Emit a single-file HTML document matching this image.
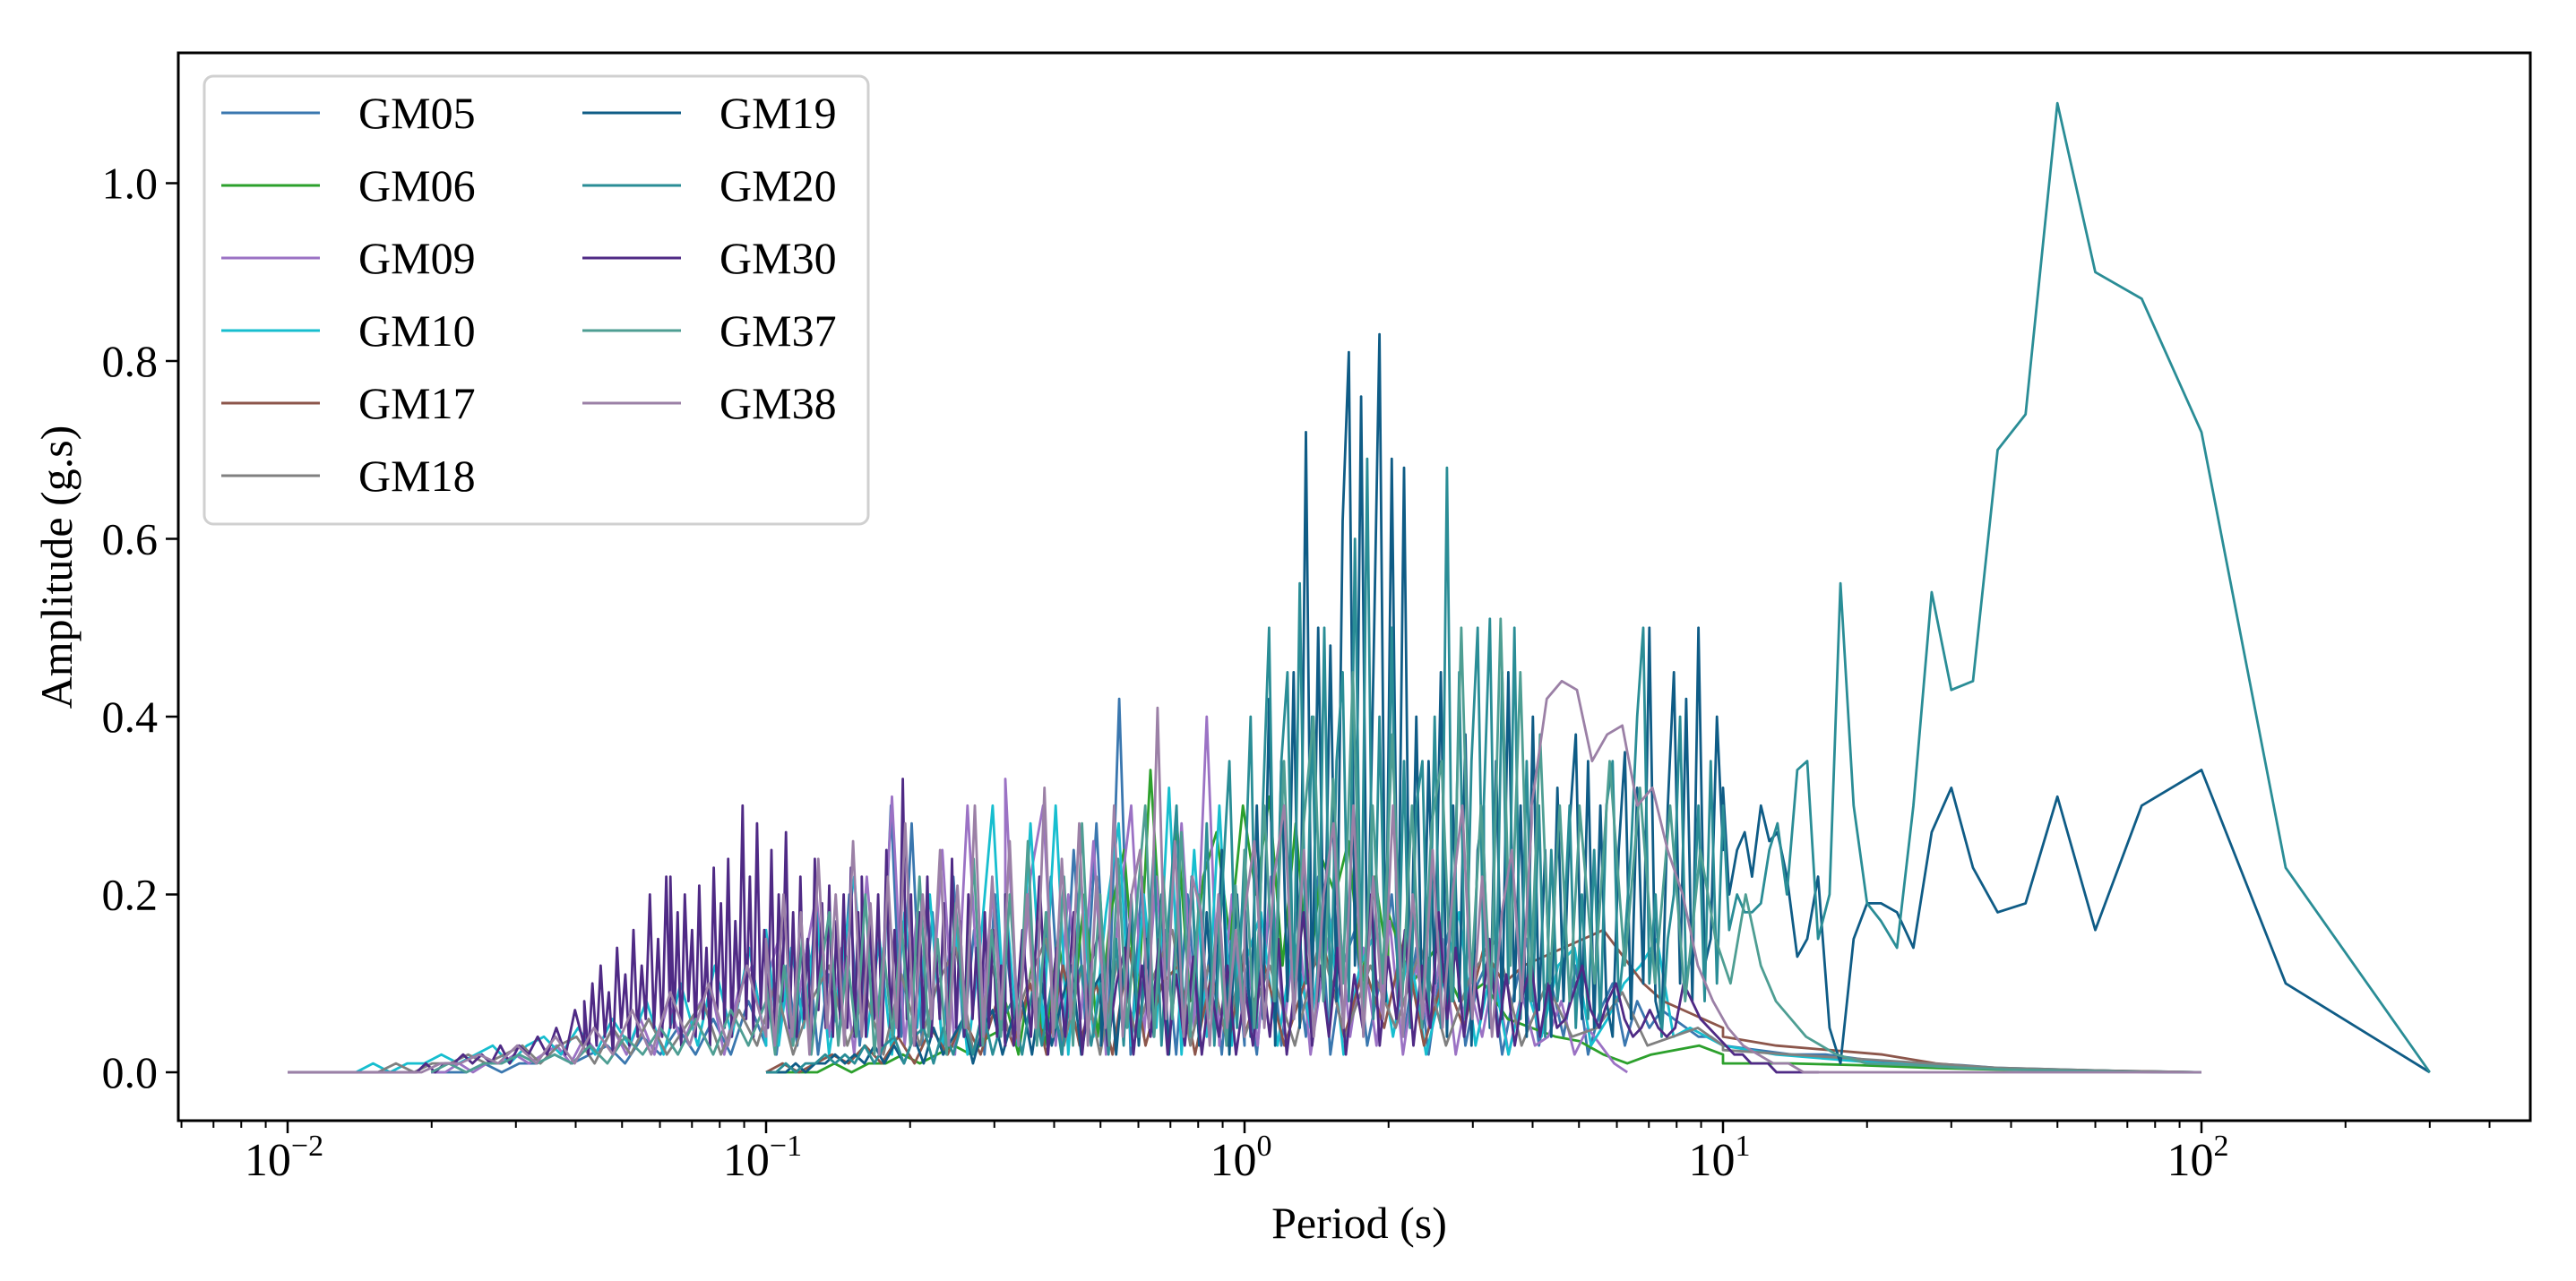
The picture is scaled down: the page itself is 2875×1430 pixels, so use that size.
<!DOCTYPE html>
<html><head><meta charset="utf-8"><style>
html,body{margin:0;padding:0;background:#fff;}
svg{display:block;font-family:"Liberation Serif",serif;}
</style></head><body>
<svg id="chart" width="2875" height="1430" viewBox="0 0 2875 1430" xmlns="http://www.w3.org/2000/svg">
<rect width="2875" height="1430" fill="#fff"/>
<g id="series"></g>
<rect x="199" y="59" width="2625" height="1192" fill="none" stroke="#000" stroke-width="3"/>
<g id="ticks"></g>
<text x="1517" y="1382" font-size="50" text-anchor="middle">Period (s)</text>
<text transform="translate(80,633) rotate(-90)" font-size="50" text-anchor="middle">Amplitude (g.s)</text>
<g id="legend"></g>
</svg>
<script>
const seriesNames = ["GM05","GM06","GM09","GM10","GM17","GM18","GM19","GM20","GM30","GM37","GM38"];
const seriesColors = ["#3a77af","#2ca02c","#9b72c4","#17becf","#8c564b","#808080","#0f5c86","#2a8d96","#4f2a85","#4e9e93","#9b80a6"];
const yTicks = [0.0,0.2,0.4,0.6,0.8,1.0];
const yTickLabels = ["0.0","0.2","0.4","0.6","0.8","1.0"];
const xDecades = [-2,-1,0,1,2];

// segments: [logPeriodStart, logPeriodEnd, amplitudes]
const gm05Segs = [
 [-1.7,-1.0,[0,0,0,0.01,0,0.01,0.01,0.02,0.01,0.02,0.03,0.01,0.04,0.02,0.05,0.02,0.06,0.02,0.08,0.03]],
 [-1.0,-0.5,[0.1,0.02,0.12,0.03,0.15,0.02,0.11,0.04,0.2,0.03,0.14,0.02,0.3,0.04,0.28,0.03,0.18,0.02,0.22,0.04,0.16,0.02,0.2,0.03]],
 [-0.5,0,[0.15,0.03,0.2,0.05,0.22,0.02,0.25,0.06,0.28,0.03,0.42,0.02,0.22,0.05,0.16,0.02,0.2,0.04,0.14,0.02,0.18,0.03]],
 [0,1,[0.12,0.02,0.18,0.03,0.15,0.04,0.22,0.02,0.12,0.16,0.03,0.1,0.2,0.04,0.14,0.02,0.12,0.18,0.03,0.1,0.13,0.02,0.09,0.15,0.03,0.1,0.04,0.12,0.02,0.07,0.1,0.03,0.08,0.05,0.07,0.06,0.05,0.04,0.04,0.03]],
 [1,2,[0.03,0.025,0.02,0.02,0.015,0.01,0.01,0.008,0.005,0.004,0.003,0.002,0.001,0,0]]
];
const gm06Segs = [
 [-1,-0.5,[0,0,0,0,0.01,0,0.01,0.01,0.02,0.01,0.02,0.03,0.02,0.04,0.05]],
 [-0.5,0.3,[0.08,0.02,0.12,0.03,0.15,0.05,0.2,0.04,0.18,0.25,0.06,0.34,0.1,0.28,0.08,0.22,0.27,0.15,0.3,0.2,0.31,0.12,0.28,0.1,0.24,0.2,0.26,0.1,0.22,0.12]],
 [0.3,1,[0.18,0.1,0.14,0.08,0.1,0.06,0.05,0.04,0.035,0.02,0.01,0.02,0.025,0.03,0.02]],
 [1,2,[0.01,0.01,0.008,0.005,0.003,0.002,0.001,0]]
];
const gm09Segs = [
 [-1.7,-1,[0,0,0.01,0,0.01,0.01,0.02,0.01,0.02,0.03,0.01,0.04,0.02,0.05,0.02,0.06,0.02,0.08,0.03,0.07,0.1,0.02,0.09,0.12,0.03]],
 [-1,-0.5,[0.1,0.15,0.03,0.12,0.2,0.04,0.14,0.02,0.22,0.05,0.31,0.03,0.18,0.04,0.25,0.02,0.3,0.05,0.2,0.03]],
 [-0.5,0,[0.33,0.04,0.22,0.3,0.03,0.2,0.06,0.26,0.02,0.18,0.3,0.04,0.22,0.03,0.28,0.05,0.4,0.03,0.2,0.04]],
 [0,0.8,[0.16,0.03,0.22,0.05,0.18,0.02,0.12,0.2,0.04,0.14,0.03,0.17,0.02,0.12,0.05,0.15,0.02,0.1,0.04,0.12,0.02,0.09,0.03,0.04,0.08,0.02,0.05,0.03,0.01,0]]
];
const gm10Segs = [
 [-2,-1,[0,0,0,0,0,0.01,0,0.01,0.01,0.02,0.01,0.02,0.03,0.01,0.03,0.04,0.02,0.05,0.02,0.06,0.03,0.08,0.02,0.1,0.03,0.12,0.04,0.14,0.03]],
 [-1,-0.5,[0.16,0.03,0.14,0.05,0.18,0.02,0.12,0.22,0.04,0.15,0.02,0.18,0.05,0.2,0.03,0.16,0.02,0.14,0.3,0.04]],
 [-0.5,0,[0.2,0.03,0.28,0.05,0.3,0.02,0.22,0.04,0.18,0.28,0.03,0.2,0.05,0.32,0.02,0.25,0.04,0.3,0.03,0.22]],
 [0,1,[0.12,0.18,0.03,0.15,0.05,0.2,0.02,0.12,0.16,0.04,0.14,0.02,0.1,0.18,0.03,0.12,0.02,0.1,0.04,0.12,0.14,0.03,0.06,0.1,0.12,0.15,0.04,0.05,0.04,0.03]],
 [1,2,[0.03,0.02,0.015,0.01,0.008,0.005,0.003,0.002,0.001,0]]
];
const gm17Segs = [
 [-1,0,[0,0.01,0,0.01,0.02,0.01,0.03,0.01,0.04,0.01,0.05,0.02,0.06,0.02,0.08,0.03,0.1,0.02,0.12,0.03,0.1,0.02,0.14,0.03,0.1,0.12,0.02,0.11,0.03,0.13]],
 [0,1,[0.04,0.12,0.03,0.1,0.14,0.04,0.12,0.05,0.15,0.03,0.11,0.05,0.14,0.1,0.12,0.13,0.14,0.15,0.16,0.13,0.1,0.08,0.07,0.06,0.05]],
 [1,2,[0.04,0.03,0.025,0.02,0.01,0.005,0.003,0.002,0.001,0]]
];
const gm18Segs = [
 [-2,0,[0,0,0,0,0,0,0.01,0,0.01,0.01,0.02,0.01,0.02,0.03,0.01,0.03,0.04,0.01,0.05,0.02,0.06,0.02,0.05,0.08,0.02,0.07,0.03,0.1,0.02,0.08,0.12,0.03,0.09,0.02,0.11,0.03,0.1,0.14,0.02,0.12,0.04,0.1,0.15,0.03,0.12,0.02,0.13,0.04,0.11,0.16,0.03,0.12,0.04,0.14]],
 [0,1,[0.04,0.12,0.03,0.15,0.04,0.12,0.05,0.14,0.03,0.11,0.15,0.03,0.1,0.04,0.05,0.09,0.03,0.04,0.05,0.03]],
 [1,2,[0.025,0.02,0.015,0.01,0.005,0.003,0.001,0]]
];
const gm19Segs = [
 [-1,-0.3,[0,0,0,0.01,0,0.01,0.01,0.02,0.01,0.02,0.01,0.03,0.01,0.03,0.01,0.04,0.01,0.05,0.02,0.04,0.06,0.01,0.05,0.07,0.02,0.06,0.08,0.02,0.1,0.03,0.08,0.12,0.02,0.09,0.11]],
 [-0.3,0,[0.03,0.14,0.02,0.12,0.18,0.03,0.15,0.04,0.2,0.02,0.16,0.05,0.22,0.03,0.18,0.04,0.25,0.02,0.2,0.05]],
 [0,0.5,[0.2,0.04,0.3,0.06,0.42,0.03,0.35,0.08,0.45,0.05,0.72,0.06,0.5,0.1,0.48,0.08,0.62,0.81,0.12,0.76,0.1,0.45,0.83,0.08,0.69,0.1,0.68,0.06,0.4,0.05,0.35,0.1,0.45,0.04,0.3,0.08,0.38,0.03,0.25,0.3]],
 [0.5,1,[0.25,0.05,0.35,0.06,0.45,0.08,0.3,0.04,0.4,0.07,0.25,0.04,0.32,0.08,0.28,0.38,0.06,0.35,0.05,0.3,0.08,0.04,0.25,0.36,0.06,0.32,0.1,0.5,0.08,0.05,0.3,0.45,0.1,0.42,0.08,0.5,0.12,0.15,0.4,0.25]]
];
const gm19TailPeriods = [10,10.3,10.7,11.1,11.5,12,12.5,13,13.6,14.3,15,15.8,16.7,17.6,18.75,20,21.4,23.1,25,27.3,30,33.3,37.5,42.9,50,60,75,100,150,300];
const gm19TailAmps = [0.32,0.2,0.25,0.27,0.22,0.3,0.26,0.27,0.22,0.13,0.15,0.22,0.05,0.01,0.15,0.19,0.19,0.18,0.14,0.27,0.32,0.23,0.18,0.19,0.31,0.16,0.3,0.34,0.1,0];
const gm20Segs = [
 [-1,-0.3,[0,0,0.01,0,0.01,0.01,0.02,0.01,0.02,0.01,0.03,0.01,0.03,0.04,0.01,0.04,0.05,0.01,0.05,0.02,0.06,0.02,0.07,0.02,0.06,0.08,0.02,0.09,0.03,0.1,0.02,0.09,0.12,0.03,0.1]],
 [-0.3,0,[0.1,0.02,0.15,0.03,0.2,0.04,0.12,0.25,0.03,0.18,0.3,0.04,0.22,0.05,0.28,0.03,0.2,0.35,0.05,0.25]],
 [0,0.5,[0.2,0.4,0.05,0.3,0.5,0.08,0.35,0.45,0.06,0.55,0.1,0.4,0.08,0.5,0.06,0.35,0.45,0.08,0.6,0.1,0.69,0.06,0.4,0.1,0.5,0.08,0.35,0.05,0.3,0.35,0.06,0.4,0.05,0.68,0.08,0.45,0.06,0.35,0.5,0.1]],
 [0.5,1,[0.3,0.51,0.08,0.45,0.1,0.5,0.06,0.35,0.08,0.3,0.04,0.25,0.08,0.15,0.3,0.05,0.2,0.06,0.25,0.05,0.3,0.35,0.08,0.15,0.25,0.4,0.5,0.1,0.2,0.04,0.15,0.2,0.4,0.1,0.15,0.3,0.08,0.35,0.1,0.3]]
];
const gm20TailPeriods = [10,10.3,10.7,11.1,11.5,12,12.5,13,13.6,14.3,15,15.8,16.7,17.6,18.75,20,21.4,23.1,25,27.3,30,33.3,37.5,42.9,50,60,75,100,150,300];
const gm20TailAmps = [0.3,0.16,0.2,0.18,0.18,0.19,0.25,0.28,0.2,0.34,0.35,0.15,0.2,0.55,0.3,0.19,0.17,0.14,0.3,0.54,0.43,0.44,0.7,0.74,1.09,0.9,0.87,0.72,0.23,0];
const gm30Segs = [
 [-2,-1.75,[0,0,0,0,0,0,0]],
 [-1.75,-1.38,[0,0,0.01,0,0.01,0.01,0.02,0.01,0.02,0.01,0.03,0.01,0.03,0.02,0.04,0.02,0.05,0.02,0.07,0.03]],
 [-1.38,-1.2,[0.08,0.02,0.1,0.03,0.12,0.04,0.09,0.02,0.14,0.05,0.11,0.03,0.16,0.04,0.12,0.06,0.2,0.05,0.15,0.04,0.22,0.05]],
 [-1.2,-0.8,[0.22,0.05,0.18,0.03,0.2,0.08,0.16,0.04,0.21,0.06,0.14,0.03,0.23,0.07,0.19,0.05,0.24,0.04,0.17,0.08,0.3,0.06,0.22,0.04,0.28,0.07,0.16,0.05,0.25,0.03,0.2,0.08,0.27,0.05,0.18,0.04,0.22,0.06,0.15,0.03,0.24,0.07,0.19,0.05,0.21,0.04,0.17,0.06,0.2,0.05,0.23,0.04,0.18,0.06]],
 [-0.8,-0.5,[0.22,0.04,0.18,0.06,0.2,0.03,0.25,0.05,0.16,0.04,0.33,0.06,0.2,0.03,0.18,0.05,0.22,0.04,0.15,0.06,0.19,0.03,0.24,0.05,0.17,0.04,0.2,0.06,0.14,0.03,0.18,0.05,0.16,0.04,0.12,0.03]],
 [-0.5,0,[0.2,0.03,0.16,0.04,0.22,0.02,0.14,0.04,0.18,0.02,0.12,0.16,0.03,0.1,0.14,0.02,0.12,0.04,0.15,0.02,0.11,0.03,0.13,0.02,0.1,0.04,0.12,0.02,0.09]],
 [0,1.2,[0.1,0.03,0.12,0.04,0.15,0.02,0.1,0.18,0.03,0.12,0.04,0.14,0.02,0.11,0.05,0.2,0.03,0.13,0.06,0.16,0.03,0.12,0.05,0.18,0.06,0.14,0.04,0.12,0.06,0.15,0.04,0.11,0.03,0.09,0.12,0.04,0.1,0.05,0.06,0.09,0.12,0.07,0.05,0.08,0.1,0.06,0.04,0.05,0.07,0.05,0.04,0.05,0.1,0.08,0.06,0.05,0.04,0.03,0.02,0.02,0.01,0.01,0.01,0,0,0,0,0,0]]
];
const gm37Segs = [
 [-1.7,-1,[0,0.01,0,0.01,0.01,0.02,0.01,0.02,0.01,0.03,0.01,0.04,0.02,0.05,0.02,0.06,0.02,0.07,0.03,0.08]],
 [-1,0,[0.1,0.02,0.12,0.03,0.15,0.02,0.11,0.18,0.03,0.13,0.04,0.2,0.02,0.14,0.04,0.17,0.03,0.22,0.04,0.15,0.02,0.19,0.05,0.24,0.03,0.16,0.04,0.2,0.05,0.26,0.03,0.18,0.05,0.22,0.03,0.28,0.06,0.2,0.03,0.24,0.05,0.18,0.3,0.04,0.22,0.06,0.27,0.04,0.2,0.06,0.18,0.03,0.21,0.05]],
 [0,0.7,[0.25,0.05,0.3,0.08,0.35,0.06,0.28,0.4,0.08,0.33,0.1,0.45,0.06,0.3,0.1,0.38,0.08,0.3,0.05,0.28,0.35,0.08,0.5,0.1,0.3,0.08,0.51,0.12,0.45,0.08,0.38,0.1,0.3,0.08,0.28]],
 [0.7,1.3,[0.3,0.1,0.35,0.12,0.32,0.1,0.3,0.08,0.25,0.15,0.1,0.2,0.12,0.08,0.06,0.04,0.03,0.02,0.015,0.01]],
 [1.3,2,[0.01,0.008,0.005,0.003,0.002,0.001,0,0]]
];
const gm38Segs = [
 [-2,-1,[0,0,0,0,0,0,0,0,0.01,0.01,0.02,0.01,0.03,0.01,0.04,0.01,0.05,0.02,0.07,0.02,0.09,0.03,0.1,0.03,0.12,0.04]],
 [-1,0,[0.15,0.03,0.2,0.04,0.18,0.02,0.24,0.05,0.2,0.03,0.26,0.04,0.19,0.02,0.22,0.05,0.28,0.03,0.2,0.06,0.25,0.03,0.21,0.05,0.3,0.04,0.22,0.06,0.26,0.03,0.2,0.05,0.32,0.04,0.24,0.06,0.28,0.03,0.22,0.05,0.3,0.04,0.2,0.25,0.05,0.41,0.06,0.26,0.04,0.22,0.18,0.03,0.2,0.05,0.16,0.04]],
 [0,0.6,[0.18,0.26,0.05,0.22,0.3,0.06,0.25,0.04,0.2,0.28,0.05,0.3,0.04,0.22,0.06,0.3,0.04,0.2,0.06,0.25,0.05,0.2,0.3,0.06,0.22,0.04,0.18,0.25,0.08,0.28]],
 [0.6,1.2,[0.3,0.42,0.44,0.43,0.35,0.38,0.39,0.3,0.32,0.25,0.2,0.12,0.08,0.05,0.03,0.02,0.01,0.01,0,0]],
 [1.2,2,[0,0,0,0,0,0]]
];
const allSegs = [gm05Segs,gm06Segs,gm09Segs,gm10Segs,gm17Segs,gm18Segs,gm19Segs,gm20Segs,gm30Segs,gm37Segs,gm38Segs];
const tails = {6:[gm19TailPeriods,gm19TailAmps],7:[gm20TailPeriods,gm20TailAmps]};

const NS = "http://www.w3.org/2000/svg";
const X0 = 321, DEC = 534, Y0 = 1197, YU = 992.5;
function xScale(logT){ return X0 + (logT + 2) * DEC; }
function yScale(a){ return Y0 - a * YU; }

const gSeries = document.getElementById('series');
allSegs.forEach((segs, si) => {
  const pts = [];
  segs.forEach(seg => {
    const lo = seg[0], hi = seg[1], v = seg[2], n = v.length;
    for (let i = 0; i < n; i++) {
      const lt = n > 1 ? lo + (hi - lo) * i / (n - 1) : lo;
      pts.push([xScale(lt), yScale(v[i])]);
    }
  });
  if (tails[si]) {
    const tp = tails[si][0], ta = tails[si][1];
    for (let i = 0; i < tp.length; i++) pts.push([xScale(Math.log10(tp[i])), yScale(ta[i])]);
  }
  const p = document.createElementNS(NS, 'polyline');
  p.setAttribute('points', pts.map(q => q[0].toFixed(1) + ',' + q[1].toFixed(1)).join(' '));
  p.setAttribute('fill', 'none');
  p.setAttribute('stroke', seriesColors[si]);
  p.setAttribute('stroke-width', '2.8');
  p.setAttribute('stroke-linejoin', 'round');
  
  
  gSeries.appendChild(p);
});

const gT = document.getElementById('ticks');
function line(x1,y1,x2,y2,w,name){
  const l = document.createElementNS(NS,'line');
  l.setAttribute('x1',x1);l.setAttribute('y1',y1);l.setAttribute('x2',x2);l.setAttribute('y2',y2);
  l.setAttribute('stroke','#000');l.setAttribute('stroke-width',w);
  
  
  gT.appendChild(l);
}
yTicks.forEach((v,i)=>{
  const y = yScale(v);
  line(185,y,199,y,2.5,'y-tick');
  const t = document.createElementNS(NS,'text');
  t.setAttribute('x',176);t.setAttribute('y',y+17);t.setAttribute('font-size','50');t.setAttribute('text-anchor','end');
  t.textContent = yTickLabels[i];
  
  
  gT.appendChild(t);
});
for (let d = -3; d <= 2; d++) {
  for (let m = 2; m <= 9; m++) {
    const x = xScale(d + Math.log10(m));
    if (x > 199 && x < 2824) line(x,1251,x,1259,2,'x-minor-tick');
  }
}
xDecades.forEach(d=>{
  const x = xScale(d);
  line(x,1251,x,1265,2.5,'x-tick');
  const t = document.createElementNS(NS,'text');
  t.setAttribute('x',x-4);t.setAttribute('y',1312);t.setAttribute('font-size','52');t.setAttribute('text-anchor','middle');
  
  
  const b = document.createElementNS(NS,'tspan'); b.textContent = '10';
  const s = document.createElementNS(NS,'tspan'); s.textContent = (d<0?'\u2212':'') + Math.abs(d);
  s.setAttribute('font-size','34'); s.setAttribute('dy','-22');
  t.appendChild(b); t.appendChild(s);
  gT.appendChild(t);
});

const gL = document.getElementById('legend');
const box = document.createElementNS(NS,'rect');
box.setAttribute('x',228);box.setAttribute('y',85);box.setAttribute('width',741);box.setAttribute('height',500);box.setAttribute('rx',10);
box.setAttribute('fill','#fff');box.setAttribute('fill-opacity','0.85');box.setAttribute('stroke','#d0d0d0');box.setAttribute('stroke-width','3');


gL.appendChild(box);
seriesNames.forEach((nm,i)=>{
  const col = i < 6 ? 0 : 1, row = i < 6 ? i : i - 6;
  const y = 126 + row * 81, lx = col ? 650 : 247, tx = col ? 803 : 400;
  const g = document.createElementNS(NS,'g');
  
  
  const l = document.createElementNS(NS,'line');
  l.setAttribute('x1',lx);l.setAttribute('x2',lx+110);l.setAttribute('y1',y);l.setAttribute('y2',y);
  l.setAttribute('stroke',seriesColors[i]);l.setAttribute('stroke-width','3');
  const t = document.createElementNS(NS,'text');
  t.setAttribute('x',tx);t.setAttribute('y',y+17);t.setAttribute('font-size','50');
  t.textContent = nm;
  g.appendChild(l); g.appendChild(t);
  gL.appendChild(g);
});
</script>
</body></html>
